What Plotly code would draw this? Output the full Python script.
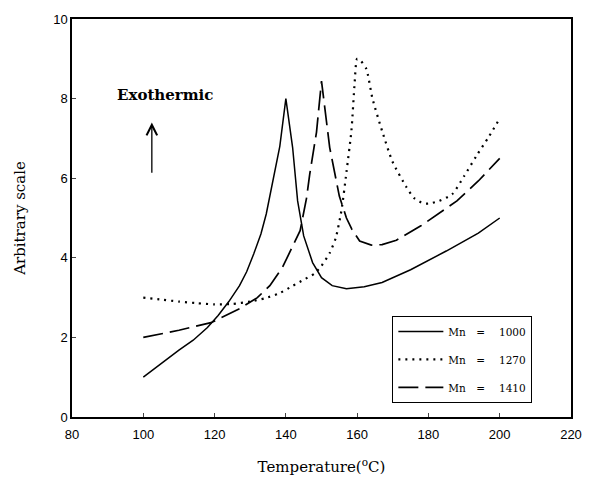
import plotly.graph_objects as go

# Mn = 1000 (solid)
x_1000 = [100, 103, 106, 110, 114, 118, 121, 124, 127, 129, 131, 133, 134.5, 136, 138.3, 140, 141.9, 143.3, 145, 147.5, 150, 153, 157, 162, 167, 175, 185, 194, 200]
y_1000 = [1.0, 1.2, 1.42, 1.68, 1.93, 2.25, 2.55, 2.9, 3.3, 3.65, 4.1, 4.6, 5.1, 5.8, 6.8, 8.0, 6.77, 5.43, 4.55, 3.88, 3.5, 3.3, 3.22, 3.27, 3.38, 3.7, 4.17, 4.62, 5.0]

# Mn = 1270 (dotted)
x_1270 = [100, 105, 110, 115, 120, 125, 130, 134, 138, 142, 145, 148, 150, 152.3, 154, 155.6, 157, 158.4, 159.3, 160, 161, 162.6, 164.3, 167.1, 169.9, 173.8, 176, 178.5, 180, 183, 186.7, 190, 193.4, 197, 200]
y_1270 = [3.0, 2.95, 2.9, 2.86, 2.83, 2.84, 2.9, 2.98, 3.1, 3.3, 3.45, 3.6, 3.8, 4.12, 4.5, 5.19, 6.15, 7.2, 8.4, 9.0, 8.95, 8.74, 8.0, 7.16, 6.42, 5.78, 5.5, 5.37, 5.36, 5.43, 5.6, 6.05, 6.55, 7.05, 7.5]

# Mn = 1410 (dashed)
x_1410 = [100, 110, 119, 127, 132, 135.5, 139, 141, 144, 145.8, 146.7, 148.6, 150, 152.3, 155, 157, 158.5, 160.7, 164, 167, 171, 178, 188, 194, 200]
y_1410 = [2.0, 2.18, 2.37, 2.72, 3.0, 3.3, 3.75, 4.12, 4.68, 5.5, 6.1, 7.16, 8.44, 6.77, 5.55, 5.0, 4.72, 4.42, 4.32, 4.33, 4.44, 4.81, 5.43, 5.93, 6.5]

x_ticks = [80, 100, 120, 140, 160, 180, 200, 220]
y_ticks = [0, 2, 4, 6, 8, 10]

SERIF = "DejaVu Serif, serif"
SANS = "Liberation Sans, Arial, sans-serif"

fig = go.Figure()
fig.add_trace(go.Scatter(x=x_1000, y=y_1000, mode="lines", name="Mn\u2003=\u2003 1000",
                         legendgroup="a", line=dict(color="black", width=1.5)))
fig.add_trace(go.Scatter(x=x_1270, y=y_1270, mode="lines", name="Mn\u2003=\u2003 1270",
                         legendgroup="b", line=dict(color="black", width=2.2, dash="2px,5px", shape="spline", smoothing=0.6)))
fig.add_trace(go.Scatter(x=x_1410, y=y_1410, mode="lines", name="Mn\u2003=\u2003 1410",
                         legendgroup="c", line=dict(color="black", width=1.7, dash="20px,7px")))

fig.add_annotation(x=106.0, y=8.08, xref="x", yref="y", text="<b>Exothermic</b>",
                   showarrow=False, font=dict(family=SERIF, size=15, color="black"))
fig.add_annotation(x=102.4, y=7.4, xref="x", yref="y", ax=102.4, ay=6.1, axref="x", ayref="y",
                   text="", showarrow=True, arrowhead=5, arrowsize=1.6, arrowwidth=1.3, arrowcolor="black")

fig.update_layout(
    width=594, height=490,
    margin=dict(l=72, r=22, t=12, b=73),
    plot_bgcolor="white", paper_bgcolor="white",
    showlegend=True,
    legend=dict(x=0.642, y=0.254, xanchor="left", yanchor="top",
                bgcolor="white", bordercolor="black", borderwidth=1,
                font=dict(family=SERIF, size=10.5, color="black"),
                tracegroupgap=9, itemwidth=45),
    xaxis=dict(range=[80, 220], tickvals=x_ticks, ticks="inside", ticklen=4,
               showline=True, linecolor="black", linewidth=1.5, mirror=True,
               showgrid=False, zeroline=False, ticklabelstandoff=5,
               tickfont=dict(family=SANS, size=13, color="black"),
               title=dict(text="Temperature(<sup>o</sup>C)", font=dict(family=SERIF, size=15, color="black"), standoff=20)),
    yaxis=dict(range=[0, 10], tickvals=y_ticks, ticks="inside", ticklen=4,
               showline=True, linecolor="black", linewidth=1.5, mirror=True,
               showgrid=False, zeroline=False,
               tickfont=dict(family=SANS, size=13, color="black"),
               title=dict(text="Arbitrary scale", font=dict(family=SERIF, size=15, color="black"), standoff=24)),
)

fig.write_html("out.html")
